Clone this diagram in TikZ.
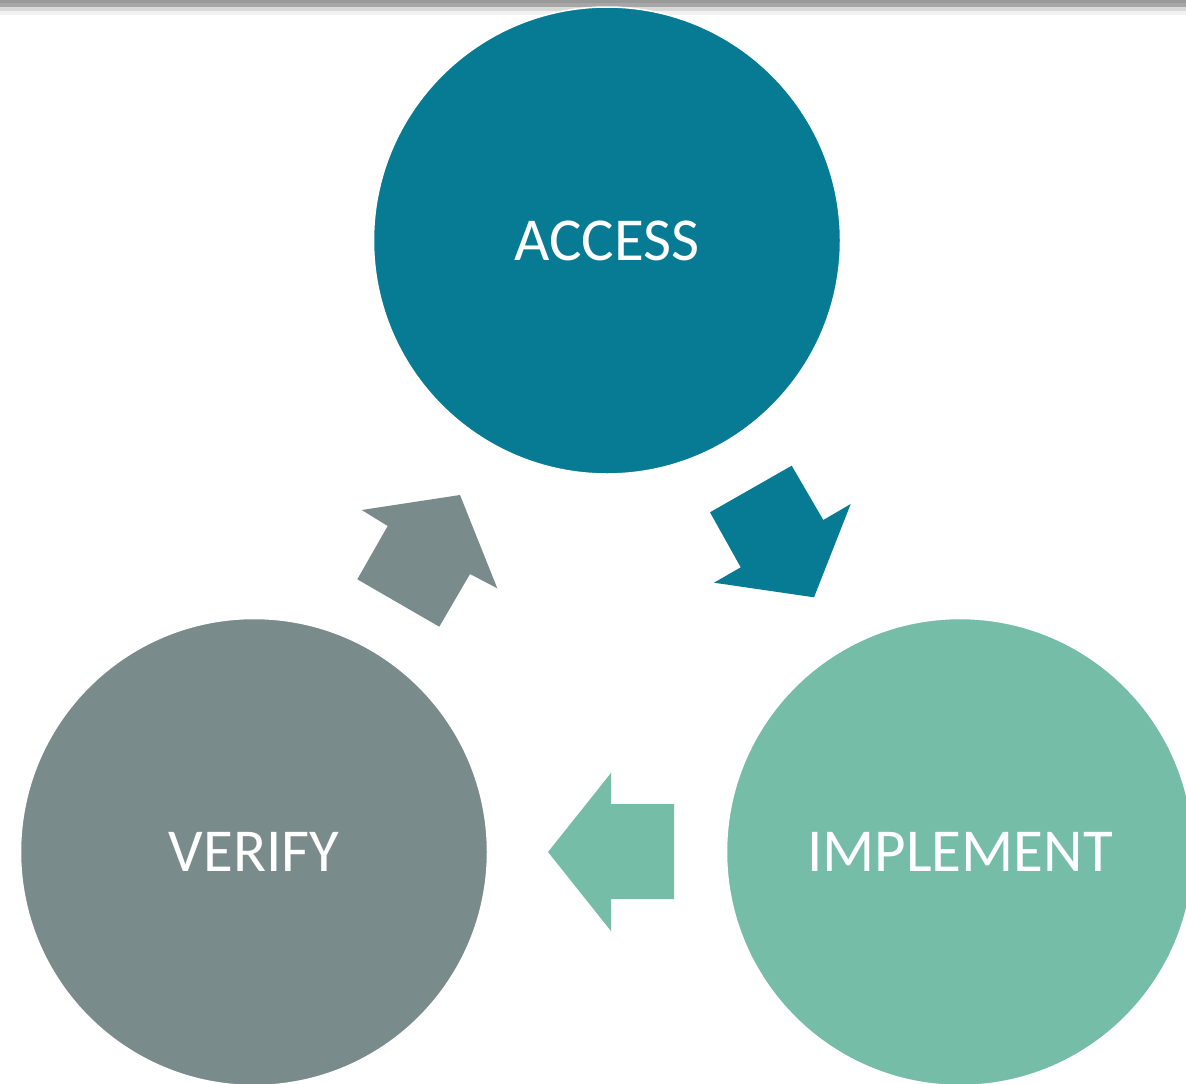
\documentclass[tikz,border=0pt]{standalone}
\usepackage{fontspec}
\setmainfont{Carlito}
\definecolor{cteal}{RGB}{7,123,148}
\definecolor{cgray}{RGB}{122,139,139}
\definecolor{cgreen}{RGB}{118,189,167}
\begin{document}
\begin{tikzpicture}[x=1pt,y=-1pt,
  stage/.style={circle,draw=white,line width=1.5pt,minimum size=467pt,inner sep=0pt,text=white,font=\fontsize{61}{70}\selectfont},
  blockarrow/.style={draw=none}]
\useasboundingbox (0,0) rectangle (1186,1084);
\fill[white] (0,0) rectangle (1186,1084);
% top bands
\fill[black!40] (0,0) rectangle (1186,3);
\fill[black!35] (0,3) rectangle (1186,7);
\fill[black!15] (0,7) rectangle (1186,11);
\fill[black!5] (0,11) rectangle (1186,15);
% circles
\node[stage,fill=cteal] (access) at (607,240.5) {ACCESS};
\node[stage,fill=cgray] (verify) at (254,852) {VERIFY};
\node[stage,fill=cgreen] (implement) at (960,852) {IMPLEMENT};
% arrows
\fill[cteal] (791.7,465.7) -- (823.3,520) -- (850.7,504) -- (814,597.3) -- (714,582.7) -- (740.7,567.3) -- (710,512.3) -- cycle;
\fill[cgreen] (548,852) -- (611,773) -- (611,804) -- (674,804) -- (674,899) -- (611,899) -- (611,931) -- cycle;
\fill[cgray] (460,495) -- (497.3,588.3) -- (470,574) -- (439.3,626.7) -- (357.3,579.3) -- (387.7,526) -- (361.7,510) -- cycle;
\end{tikzpicture}
\end{document}
